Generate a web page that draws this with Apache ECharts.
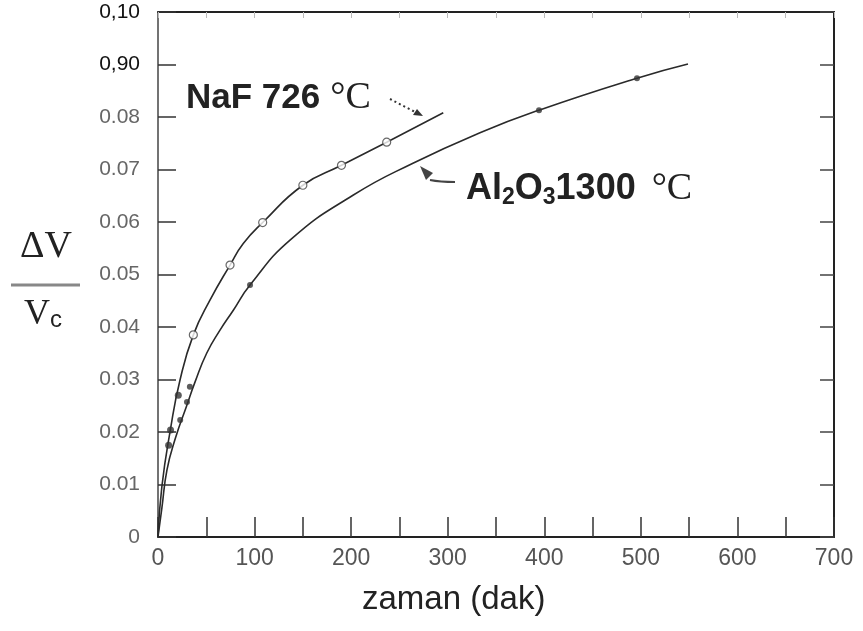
<!DOCTYPE html>
<html>
<head>
<meta charset="utf-8">
<script src="https://cdn.jsdelivr.net/npm/echarts@6/dist/echarts.min.js"></script>
<style>html,body{margin:0;padding:0;background:#fff}#c{width:863px;height:631px}</style>
</head>
<body>
<div id="c"></div>
<script>
// x: zaman (dak), y: ΔV/Vc
var xTickLabels = ['0','100','200','300','400','500','600','700'];
var yTickLabels = ['0','0.01','0.02','0.03','0.04','0.05','0.06','0.07','0.08','0,90','0,10'];

var nafCurve = [[0,0],[4,0.0096],[12.8,0.0204],[22.8,0.0299],[36.6,0.0385],[53.8,0.0451],[74.6,0.0518],[88.3,0.0559],[108.4,0.0599],[150,0.0670],[190,0.0708],[236.8,0.0752],[295.4,0.0808]];
var nafPoints = [[36.6,0.0385],[74.6,0.0518],[108.4,0.0599],[150,0.0670],[190,0.0708],[236.8,0.0752]];
var nafFilled = [[21,0.027],[13,0.0204],[11,0.0175]];

var alCurve = [[0,0],[4,0.0055],[9.3,0.0128],[18,0.0188],[29.7,0.0250],[38.3,0.0295],[50.4,0.0350],[64.2,0.0394],[78,0.0432],[95.3,0.0480],[137,0.0566],[201.9,0.0651],[264,0.0712],[333.4,0.0770],[394.5,0.0813],[496,0.0874],[548.8,0.0901]];
var alPoints = [[23,0.0223],[30,0.0257],[33,0.0286],[95.3,0.0480],[394.5,0.0813],[496,0.0874]];

var chart = echarts.init(document.getElementById('c'));
var lineCol = '#2a2a2a';
chart.setOption({
  animation: false,
  backgroundColor: '#fff',
  grid: {left: 158, right: 29, top: 12, bottom: 94},
  xAxis: [{
    type: 'value', min: 0, max: 700, interval: 50,
    axisLine: {onZero: false, lineStyle: {color: '#222', width: 2}},
    axisTick: {inside: true, length: 20, lineStyle: {color: '#333', width: 1.5}},
    splitLine: {show: false},
    axisLabel: {
      margin: 10, color: '#555', fontSize: 23, fontFamily: 'Liberation Sans',
      formatter: function (v) { return v % 100 === 0 ? xTickLabels[v / 100] : ''; }
    }
  }, {
    type: 'value', min: 0, max: 700, interval: 50, position: 'top',
    axisLine: {show: true, onZero: false, lineStyle: {color: '#222', width: 2}},
    axisTick: {show: true, inside: true, length: 6, lineStyle: {color: '#bbb'}},
    axisLabel: {show: false}, splitLine: {show: false}
  }],
  yAxis: [{
    type: 'value', min: 0, max: 0.10, interval: 0.01,
    axisLine: {show: true, onZero: false, lineStyle: {color: '#444', width: 1.5}},
    axisTick: {show: true, inside: true, length: 18, lineStyle: {color: '#333', width: 1.5}},
    splitLine: {show: false},
    axisLabel: {
      margin: 18, fontSize: 21, fontFamily: 'Liberation Sans',
      color: function (v, i) { return (i >= 9) ? '#111' : '#666'; },
      formatter: function (v) { return yTickLabels[Math.round(v * 100)]; }
    }
  }, {
    type: 'value', min: 0, max: 0.10, interval: 0.01, position: 'right',
    axisLine: {show: true, onZero: false, lineStyle: {color: '#222', width: 2}},
    axisTick: {show: true, inside: true, length: 14, lineStyle: {color: '#444', width: 1.5}},
    axisLabel: {show: false}, splitLine: {show: false}
  }],
  series: [
    {type: 'line', data: nafCurve, smooth: 0.5, showSymbol: false, lineStyle: {color: lineCol, width: 1.6}, z: 2},
    {type: 'line', data: alCurve, smooth: 0.5, showSymbol: false, lineStyle: {color: lineCol, width: 1.6}, z: 2},
    {type: 'scatter', data: nafPoints, symbol: 'circle', symbolSize: 8, itemStyle: {color: '#fff', borderColor: '#444', borderWidth: 1.2}, z: 3},
    {type: 'scatter', data: nafFilled, symbol: 'circle', symbolSize: 7, itemStyle: {color: '#333'}, z: 3},
    {type: 'scatter', data: alPoints, symbol: 'circle', symbolSize: 6, itemStyle: {color: '#333'}, z: 3}
  ],
  graphic: [
    // y-axis title as a fraction
    {type: 'text', left: 20, top: 228, style: {text: 'ΔV', font: '38px "Liberation Serif"', fill: '#222'}},
    {type: 'line', shape: {x1: 11, y1: 285, x2: 80, y2: 285}, style: {stroke: '#888', lineWidth: 3}},
    {type: 'text', left: 24, top: 297, style: {
      rich: {v: {font: '36px "Liberation Serif"', fill: '#222'}, c: {font: '24px "Liberation Sans"', fill: '#222', padding: [10, 0, 0, 0]}},
      text: '{v|V}{c|c}'
    }},
    // x-axis title
    {type: 'text', left: 362, top: 583, style: {text: 'zaman (dak)', font: '33px "Liberation Sans"', fill: '#222'}},
    // NaF label
    {type: 'text', left: 186, top: 79, style: {
      rich: {a: {font: 'bold 35px "Liberation Sans"', fill: '#222'}, b: {font: '38px "Liberation Serif"', fill: '#222', padding: [0, 0, 0, 10]}},
      text: '{a|NaF 726}{b|°C}'
    }},
    {type: 'line', shape: {x1: 390, y1: 99, x2: 417, y2: 113}, style: {stroke: '#333', lineWidth: 2, lineDash: [2, 3]}},
    {type: 'polygon', shape: {points: [[423, 116], [413, 115], [417, 109]]}, style: {fill: '#333'}},
    // Al2O3 label
    {type: 'text', left: 466, top: 170, style: {
      rich: {
        a: {font: 'bold 36px "Liberation Sans"', fill: '#222'},
        s: {font: 'bold 23px "Liberation Sans"', fill: '#222', padding: [18, 0, 0, 0]},
        b: {font: '38px "Liberation Serif"', fill: '#222', padding: [0, 0, 0, 16]}
      },
      text: '{a|Al}{s|2}{a|O}{s|3}{a|1300}{b|°C}'
    }},
    {type: 'bezierCurve', shape: {x1: 455, y1: 182, x2: 430, y2: 180, cpx1: 440, cpy1: 182}, style: {stroke: '#444', lineWidth: 2, fill: null}},
    {type: 'polygon', shape: {points: [[420, 166], [433, 173], [426, 180]]}, style: {fill: '#444'}}
  ]
});
</script>
</body>
</html>
